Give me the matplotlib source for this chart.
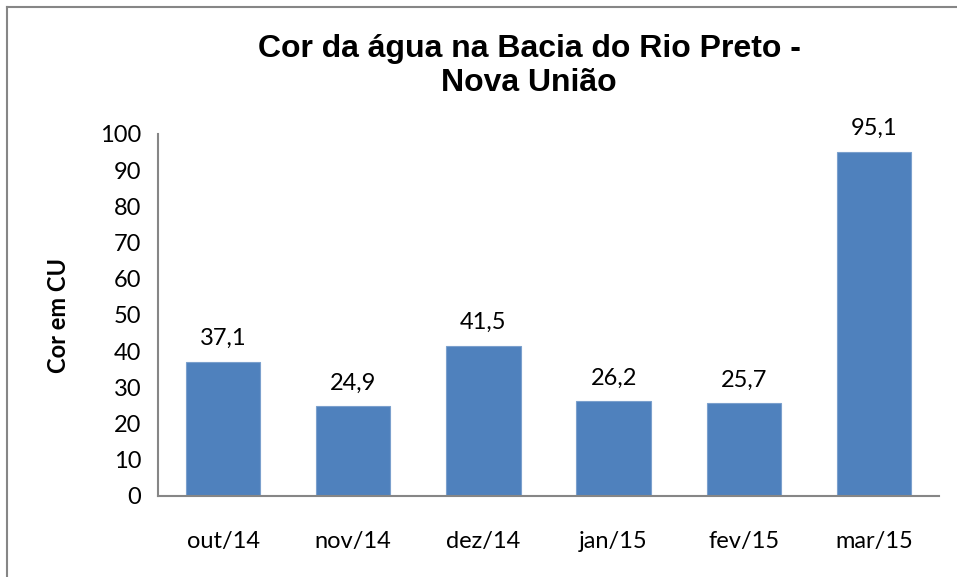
import matplotlib.pyplot as plt
from matplotlib.lines import Line2D

months = ["out/14", "nov/14", "dez/14", "jan/15", "fev/15", "mar/15"]
cor = [37.1, 24.9, 41.5, 26.2, 25.7, 95.1]
yticks = list(range(0, 101, 10))

plt.rcParams['font.family'] = ['Lato', 'DejaVu Sans']

fig = plt.figure(figsize=(9.57, 5.77), dpi=100, facecolor='white')
ax = fig.add_axes([158 / 957, 1 - 496 / 577, (939 - 158) / 957, (496 - 134) / 577])

x = range(len(months))
bars = ax.bar(x, cor, width=0.57, color='#4f81bd', edgecolor='#7ba0cd', linewidth=0.8)

for xi, v in zip(x, cor):
    ax.annotate(f"{v:.1f}".replace('.', ','), (xi, v), xytext=(0, 9),
                textcoords='offset points', ha='center', va='bottom', fontsize=17)

ax.set_xlim(-0.5, len(months) - 0.5)
ax.set_ylim(0, 100)
ax.set_yticks(yticks)
ax.set_xticks(list(x))
ax.set_xticklabels(months)
ax.tick_params(axis='both', length=0, labelsize=17)
ax.tick_params(axis='x', pad=25)
ax.tick_params(axis='y', pad=12)

for s in ['top', 'right']:
    ax.spines[s].set_visible(False)
for s in ['left', 'bottom']:
    ax.spines[s].set_color('#868686')
    ax.spines[s].set_linewidth(1.5)

ax.set_ylabel("Cor em CU", fontsize=17, fontweight='bold', labelpad=22)

fig.text(529 / 957, 1 - 66 / 577, "Cor da água na Bacia do Rio Preto -\nNova União",
         ha='center', va='center', fontsize=23, fontweight='bold',
         family='Liberation Sans', linespacing=1.2)

# outer chart border (top and left visible)
fig.add_artist(Line2D([7 / 957, 1], [1 - 7 / 577, 1 - 7 / 577], transform=fig.transFigure,
                      color='#868686', linewidth=1.5))
fig.add_artist(Line2D([7 / 957, 7 / 957], [0, 1 - 7 / 577], transform=fig.transFigure,
                      color='#868686', linewidth=1.5))

plt.savefig("out.png", dpi=100)
